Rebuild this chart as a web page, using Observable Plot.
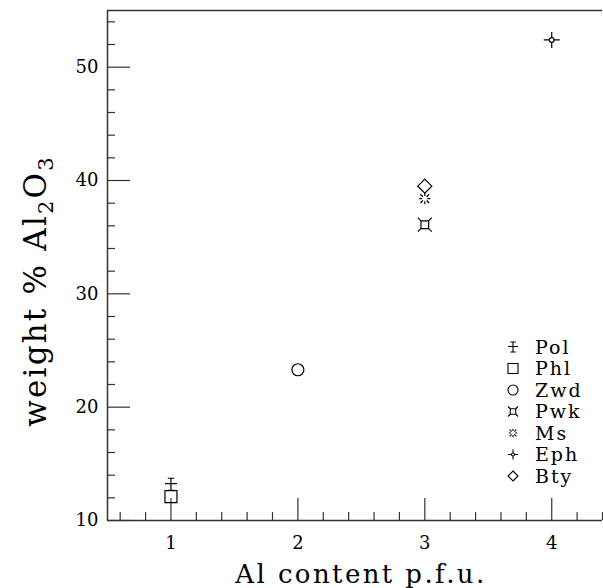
<!DOCTYPE html>
<html>
<head>
<meta charset="utf-8">
<script src="https://cdn.jsdelivr.net/npm/d3@7"></script>
<script src="https://cdn.jsdelivr.net/npm/@observablehq/plot@0.6"></script>
<style>
  html, body { margin: 0; padding: 0; background: white; }
  #chart { width: 603px; height: 588px; }
</style>
</head>
<body>
<div id="chart"></div>
<script>
// ---- data ----
const minerals = ["Pol", "Phl", "Zwd", "Pwk", "Ms", "Eph", "Bty"];
const alContent = [1, 1, 2, 3, 3, 4, 3];
const al2o3 = [13.2, 12.1, 23.3, 36.1, 38.4, 52.4, 39.5];

const xDomain = [0.5, 4.4];
const yDomain = [10, 55];
const xMajor = [1, 2, 3, 4];
const xMinor = [0.6, 0.8, 1.2, 1.4, 1.6, 1.8, 2.2, 2.4, 2.6, 2.8, 3.2, 3.4, 3.6, 3.8, 4.2, 4.4];
const yMajor = [10, 20, 30, 40, 50];
const yMinor = [12, 14, 16, 18, 22, 24, 26, 28, 32, 34, 36, 38, 42, 44, 46, 48, 52, 54];
const xTitle = "Al content p.f.u.";
const yTitleParts = [["weight % Al", 0], ["2", 1], ["O", 0], ["3", 1]];

// ---- custom symbols (draw gets area; r = sqrt(size/PI)) ----
const R = s => Math.sqrt(s / Math.PI);
const symbols = {
  Pol: { draw(c, s) { const r = R(s);
    c.moveTo(0, -r); c.lineTo(0, r);
    c.moveTo(-r, -0.1 * r); c.lineTo(r, -0.1 * r);
    c.moveTo(-0.55 * r, -r); c.lineTo(0.55 * r, -r);
    c.moveTo(-0.55 * r, r); c.lineTo(0.55 * r, r); } },
  Phl: { draw(c, s) { const r = R(s); c.rect(-r, -r, 2 * r, 2 * r); } },
  Zwd: { draw(c, s) { const r = R(s); c.moveTo(r, 0); c.arc(0, 0, r, 0, 2 * Math.PI); } },
  Pwk: { draw(c, s) { const r = R(s), q = 0.55 * r;
    c.rect(-q, -q, 2 * q, 2 * q);
    for (const [sx, sy] of [[-1, -1], [1, -1], [1, 1], [-1, 1]]) { c.moveTo(sx * q, sy * q); c.lineTo(sx * r, sy * r); } } },
  Ms: { draw(c, s) { const r = R(s);
    for (let k = 0; k < 8; k++) { const a = k * Math.PI / 4, rr = (k % 2 ? 0.95 : 0.85) * r;
      c.moveTo(0.4 * r * Math.cos(a), 0.4 * r * Math.sin(a)); c.lineTo(rr * Math.cos(a), rr * Math.sin(a)); } } },
  Eph: { draw(c, s) { const r = R(s), q = 0.3 * r;
    c.moveTo(q, 0); c.arc(0, 0, q, 0, 2 * Math.PI);
    c.moveTo(q, 0); c.lineTo(r, 0); c.moveTo(-q, 0); c.lineTo(-r, 0);
    c.moveTo(0, q); c.lineTo(0, r); c.moveTo(0, -q); c.lineTo(0, -r); } },
  Bty: { draw(c, s) { const r = R(s); c.moveTo(0, -r); c.lineTo(r, 0); c.lineTo(0, r); c.lineTo(-r, 0); c.closePath(); } }
};
const symbolR = { Pol: 6, Phl: 6, Zwd: 6, Pwk: 7, Ms: 6.5, Eph: 8, Bty: 7 };

const rows = minerals.map((m, i) => ({ mineral: m, x: alContent[i], y: al2o3[i] }));

const W = 603, H = 588, ML = 107, MT = 10, MB = 68, MR = 1;
const innerW = W - ML - MR, innerH = H - MT - MB;
const axisColor = "#333";

const chart = Plot.plot({
  width: W, height: H,
  marginLeft: ML, marginTop: MT, marginBottom: MB, marginRight: MR,
  x: { domain: xDomain },
  y: { domain: yDomain },
  style: { fontFamily: "DejaVu Serif", background: "white", color: "black", overflow: "visible" },
  marks: [
    Plot.ruleY([yDomain[0]], { stroke: axisColor, strokeWidth: 1.5 }),
    Plot.ruleY([yDomain[1]], { stroke: axisColor, strokeWidth: 1.5 }),
    Plot.ruleX([xDomain[0]], { stroke: axisColor, strokeWidth: 1.5 }),
    Plot.tickX(xMajor, { x: d => d, insetTop: innerH - 22, stroke: axisColor, strokeWidth: 1.2 }),
    Plot.tickX(xMinor, { x: d => d, insetTop: innerH - 8, stroke: axisColor, strokeWidth: 1.2 }),
    Plot.tickY(yMajor, { y: d => d, insetRight: innerW - 23, stroke: axisColor, strokeWidth: 1.2 }),
    Plot.tickY(yMinor, { y: d => d, insetRight: innerW - 8, stroke: axisColor, strokeWidth: 1.2 }),
    Plot.axisX(xMajor, { tickSize: 0, tickPadding: 16, fontSize: 18, label: null, fill: "black", tickFormat: d => String(d) }),
    Plot.axisY(yMajor, { tickSize: 0, tickPadding: 9, fontSize: 18, label: null, fill: "black", tickFormat: d => String(d) }),
    ...minerals.map(m => Plot.dot(rows.filter(d => d.mineral === m), {
      x: "x", y: "y", symbol: symbols[m], r: symbolR[m], stroke: "black", strokeWidth: 1.2, fill: "none"
    }))
  ]
});

const svg = d3.select(chart);

// x title
svg.append("text")
  .attr("x", 361).attr("y", 583)
  .attr("text-anchor", "middle")
  .attr("font-family", "DejaVu Serif")
  .attr("font-size", 26)
  .attr("letter-spacing", "2.4px")
  .attr("fill", "black")
  .text(xTitle);

// y title with subscripts
const yt = svg.append("text")
  .attr("transform", "translate(46,291) rotate(-90)")
  .attr("text-anchor", "middle")
  .attr("font-family", "DejaVu Serif")
  .attr("font-size", 31)
  .attr("letter-spacing", "2.2px")
  .attr("fill", "black");
for (const [t, sub] of yTitleParts) {
  const ts = yt.append("tspan").text(t);
  if (sub) ts.attr("font-size", 21).attr("dy", "7");
  else ts.attr("dy", t === "O" ? "-7" : "0");
}

// legend
const lg = svg.append("g").attr("font-family", "DejaVu Serif").attr("font-size", 19).attr("text-anchor", "start");
minerals.forEach((m, i) => {
  const yy = 347 + i * 21.5;
  const p = d3.path();
  symbols[m].draw(p, Math.PI * 5 * 5);
  lg.append("path").attr("d", p.toString())
    .attr("transform", `translate(513,${yy})`)
    .attr("fill", "none").attr("stroke", "black").attr("stroke-width", 1.1);
  lg.append("text").attr("x", 535).attr("y", yy).attr("dy", "0.36em")
    .attr("text-anchor", "start")
    .attr("letter-spacing", "2px").attr("fill", "black").text(m);
});

document.getElementById("chart").appendChild(chart);
</script>
</body>
</html>
